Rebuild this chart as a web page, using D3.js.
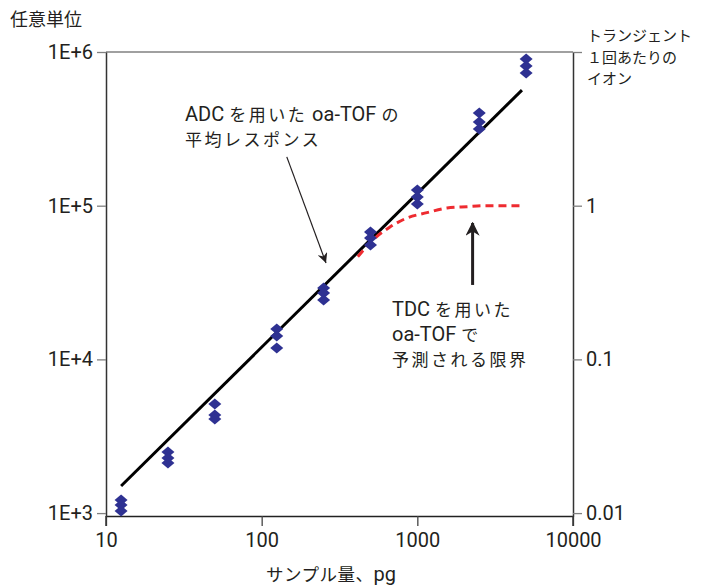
<!DOCTYPE html>
<html><head><meta charset="utf-8">
<script src="https://cdn.jsdelivr.net/npm/d3@7"></script>
<style>
html,body{margin:0;padding:0;background:#fff;}
svg{display:block;}
</style></head>
<body>
<svg id="chart" width="707" height="587"></svg>
<script>
// ---------- data ----------
const sampleAmounts = [12.5, 25, 50, 125, 250, 500, 1000, 2500, 5000];
const replicate1 = [1216, 2500, 5130, 15770, 29150, 67400, 126500, 401000, 900000];
const replicate2 = [1129, 2285, 4350, 14190, 27060, 61700, 114000, 350500, 811000];
const replicate3 = [1032, 2118, 4090, 11870, 24380, 55500, 102600, 315500, 730000];

const adcFitX = [12.5, 4700];
const adcFitY = [1500, 565000];

const tdcLimitX = [415, 519, 667, 857, 1153, 1550, 2083, 2800, 4560];
const tdcLimitY = [46600, 59900, 72700, 83100, 90100, 96600, 98500, 100000, 100000];

const xTickValues = [10, 100, 1000, 10000];
const xTickLabels = ["10", "100", "1000", "10000"];
const yTickValues = [1e3, 1e4, 1e5, 1e6];
const yTickLabels = ["1E+3", "1E+4", "1E+5", "1E+6"];
const y2TickValues = [0.01, 0.1, 1, 10];
const y2TickLabels = ["0.01", "0.1", "1", ""];

const yAxisTitle = ["任意単位"];
const y2AxisTitle = ["トランジェント", "１回あたりの", "イオン"];
const xAxisTitle = "サンプル量、pg";
const adcNote = ["ADC を用いた oa-TOF の", "平均レスポンス"];
const tdcNote = ["TDC を用いた", "oa-TOF で", "予測される限界"];

// ---------- layout ----------
const L = 106, R = 573, T = 52, B = 516;
const LATIN = "Roboto,'Liberation Sans',sans-serif";
const CJK = "'Noto Sans CJK JP','Noto Sans',sans-serif";
const TXT = "#231f20";

const svg = d3.select("#chart");
const x = d3.scaleLog().domain([10, 10000]).range([L, R]);
const y = d3.scaleLog().domain([Math.pow(10, 2.981), 1e6]).range([B, T]);
const y2 = d3.scaleLog().domain([Math.pow(10, -2.019), 10]).range([B, T]);

function mixedText(g, px, py, str, latinSize, cjkSize, anchor, cjkSpacing) {
  const t = g.append("text").attr("x", px).attr("y", py).attr("fill", TXT)
    .attr("text-anchor", anchor || "start");
  const re = /[\u3000-\u9fff\uff00-\uffef]+|[^\u3000-\u9fff\uff00-\uffef]+/g;
  (str.match(re) || []).forEach(r => {
    const cjk = /[\u3000-\u9fff\uff00-\uffef]/.test(r);
    t.append("tspan").text(r)
      .attr("font-family", cjk ? CJK : LATIN)
      .attr("font-size", cjk ? cjkSize : latinSize)
      .attr("letter-spacing", cjk && cjkSpacing ? cjkSpacing : null);
  });
  return t;
}

// top border
svg.append("line").attr("x1", L).attr("x2", R).attr("y1", T).attr("y2", T)
  .attr("stroke", "#808080").attr("stroke-width", 1.5);

// axes
function styleAxis(g, tickColor, domainColor) {
  g.select(".domain").attr("stroke", domainColor).attr("stroke-width", 1.5);
  g.selectAll(".tick line").attr("stroke", tickColor).attr("stroke-width", 1.3);
  g.selectAll(".tick text").attr("font-family", LATIN)
    .attr("font-size", 20).attr("fill", TXT);
}

const gx = svg.append("g").attr("transform", `translate(0,${B})`)
  .call(d3.axisBottom(x).tickValues(xTickValues)
    .tickFormat((d, i) => xTickLabels[i]).tickSize(10).tickSizeOuter(0).tickPadding(7));
styleAxis(gx, "#444", "#222");

const gy = svg.append("g").attr("transform", `translate(${L},0)`)
  .call(d3.axisLeft(y).tickValues(yTickValues)
    .tickFormat((d, i) => yTickLabels[i]).tickSize(9).tickSizeOuter(0).tickPadding(4));
styleAxis(gy, "#808080", "#333");

const gy2 = svg.append("g").attr("transform", `translate(${R},0)`)
  .call(d3.axisRight(y2).tickValues(y2TickValues)
    .tickFormat((d, i) => y2TickLabels[i]).tickSize(9).tickSizeOuter(0).tickPadding(4));
styleAxis(gy2, "#808080", "#333");

// extend the vertical axis lines down to the x tick length
svg.append("line").attr("x1", L).attr("x2", L).attr("y1", B).attr("y2", B + 10).attr("stroke", "#333").attr("stroke-width", 1.5);
svg.append("line").attr("x1", R).attr("x2", R).attr("y1", B).attr("y2", B + 10).attr("stroke", "#333").attr("stroke-width", 1.5);

// ADC fit line
const fitData = adcFitX.map((d, i) => [d, adcFitY[i]]);
svg.append("path").datum(fitData)
  .attr("d", d3.line().x(d => x(d[0])).y(d => y(d[1])))
  .attr("fill", "none").attr("stroke", "#000").attr("stroke-width", 3);

// TDC limit
const tdcData = tdcLimitX.map((d, i) => [d, tdcLimitY[i]]);
svg.append("path").datum(tdcData)
  .attr("d", d3.line().curve(d3.curveMonotoneX).x(d => x(d[0])).y(d => y(d[1])))
  .attr("fill", "none").attr("stroke", "#ee2b30").attr("stroke-width", 3)
  .attr("stroke-dasharray", "8,5");

// points
const pts = [];
[replicate1, replicate2, replicate3].forEach(arr => arr.forEach((v, i) => pts.push([sampleAmounts[i], v])));
svg.append("g").selectAll("path").data(pts).join("path")
  .attr("transform", d => `translate(${x(d[0])},${y(d[1])})`)
  .attr("d", "M0,-5.5L6.5,0L0,5.5L-6.5,0Z")
  .attr("fill", "#2e3192");

// arrows
const defs = svg.append("defs");
defs.append("marker").attr("id", "headThin").attr("viewBox", "0 0 10 10")
  .attr("refX", 10).attr("refY", 5).attr("markerWidth", 10).attr("markerHeight", 10)
  .attr("markerUnits", "userSpaceOnUse").attr("orient", "auto")
  .append("path").attr("d", "M0,0L10,5L0,10L3,5Z").attr("fill", "#231f20");
defs.append("marker").attr("id", "headThick").attr("viewBox", "0 0 10 10")
  .attr("refX", 9).attr("refY", 5).attr("markerWidth", 14).attr("markerHeight", 14)
  .attr("markerUnits", "userSpaceOnUse").attr("orient", "auto")
  .append("path").attr("d", "M0,0L10,5L0,10L3,5Z").attr("fill", "#231f20");

svg.append("line")
  .attr("x1", x(145)).attr("y1", y(207700)).attr("x2", x(259)).attr("y2", y(42400))
  .attr("stroke", "#231f20").attr("stroke-width", 1.2).attr("marker-end", "url(#headThin)");
svg.append("line")
  .attr("x1", x(2265)).attr("y1", y(30500)).attr("x2", x(2265)).attr("y2", y(77100))
  .attr("stroke", "#231f20").attr("stroke-width", 3).attr("marker-end", "url(#headThick)");

// annotations
const ann = svg.append("g");
adcNote.forEach((s, i) => mixedText(ann, 185, 121 + i * 25, s, 20, 17, "start", 2.5));
tdcNote.forEach((s, i) => mixedText(ann, 392, 316 + i * 25, s, 20, 17, "start", 2.5));

// axis titles
yAxisTitle.forEach((s, i) => mixedText(svg, 10, 26, s, 18, 18));
y2AxisTitle.forEach((s, i) => mixedText(svg, 587, 41 + i * 21.5, s, 16, 15));
mixedText(svg, 331, 581, xAxisTitle, 20, 17.5, "middle", 0.5);
</script>
</body></html>
